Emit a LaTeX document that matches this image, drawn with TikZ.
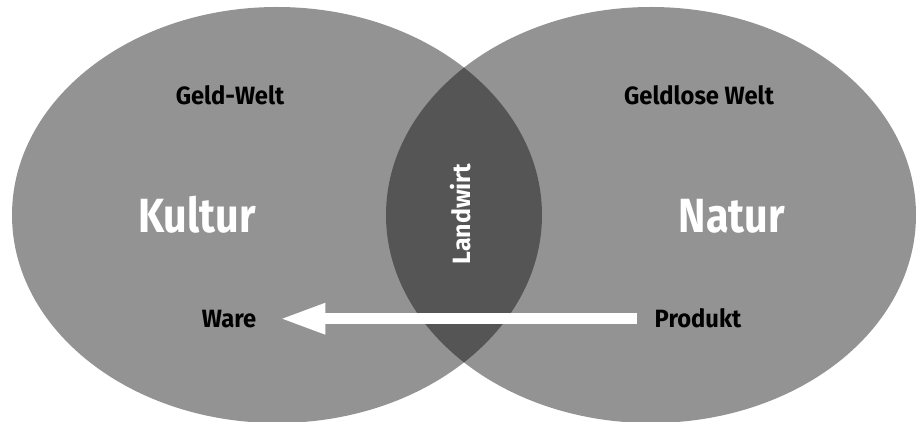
\documentclass[tikz,border=0pt]{standalone}
\usepackage{fontspec}
\setmainfont{Fira Sans}
\newfontfamily\narrowfont{Fira Sans}[FakeStretch=0.86]
\newfontfamily\labelfont{Fira Sans}[FakeStretch=0.95]
\usetikzlibrary{arrows.meta}
\definecolor{venngray}{RGB}{147,147,147}
\definecolor{lensgray}{RGB}{85,85,85}
\tikzset{
  smalllabel/.style={anchor=base, inner sep=0pt, text=black,
    font=\labelfont\bfseries\fontsize{25}{30}\selectfont},
  biglabel/.style={anchor=base, inner sep=0pt, text=white,
    font=\narrowfont\bfseries\fontsize{48}{56}\selectfont},
  flow/.style={white, line width=11pt,
    -{Triangle[length=43pt,width=32pt,line width=0pt]}}
}
\begin{document}
\begin{tikzpicture}[x=1pt,y=-1pt]
\useasboundingbox (0,0) rectangle (922,422);
\fill[venngray] (277,215) ellipse [x radius=265, y radius=208];
\fill[venngray] (651,215) ellipse [x radius=265, y radius=208];
\begin{scope}
\clip (277,215) ellipse [x radius=265, y radius=208];
\fill[lensgray] (651,215) ellipse [x radius=265, y radius=208];
\end{scope}
\node[smalllabel] (geldwelt) at (230,105) {Geld-Welt};
\node[smalllabel] (geldlos) at (699,105) {Geldlose Welt};
\node[biglabel] (kultur) at (197,233) {Kultur};
\node[biglabel] (natur) at (732,233) {Natur};
\node[anchor=base, inner sep=0pt, text=white, rotate=90,
  font=\bfseries\fontsize{25}{30}\selectfont] (landwirt) at (470,214) {Landwirt};
\node[smalllabel] (ware) at (229,328) {Ware};
\node[smalllabel] (produkt) at (698,328) {Produkt};
\draw[flow, shorten <=18pt, shorten >=26pt] (produkt.west) -- (produkt.west -| ware.east);
\end{tikzpicture}
\end{document}
